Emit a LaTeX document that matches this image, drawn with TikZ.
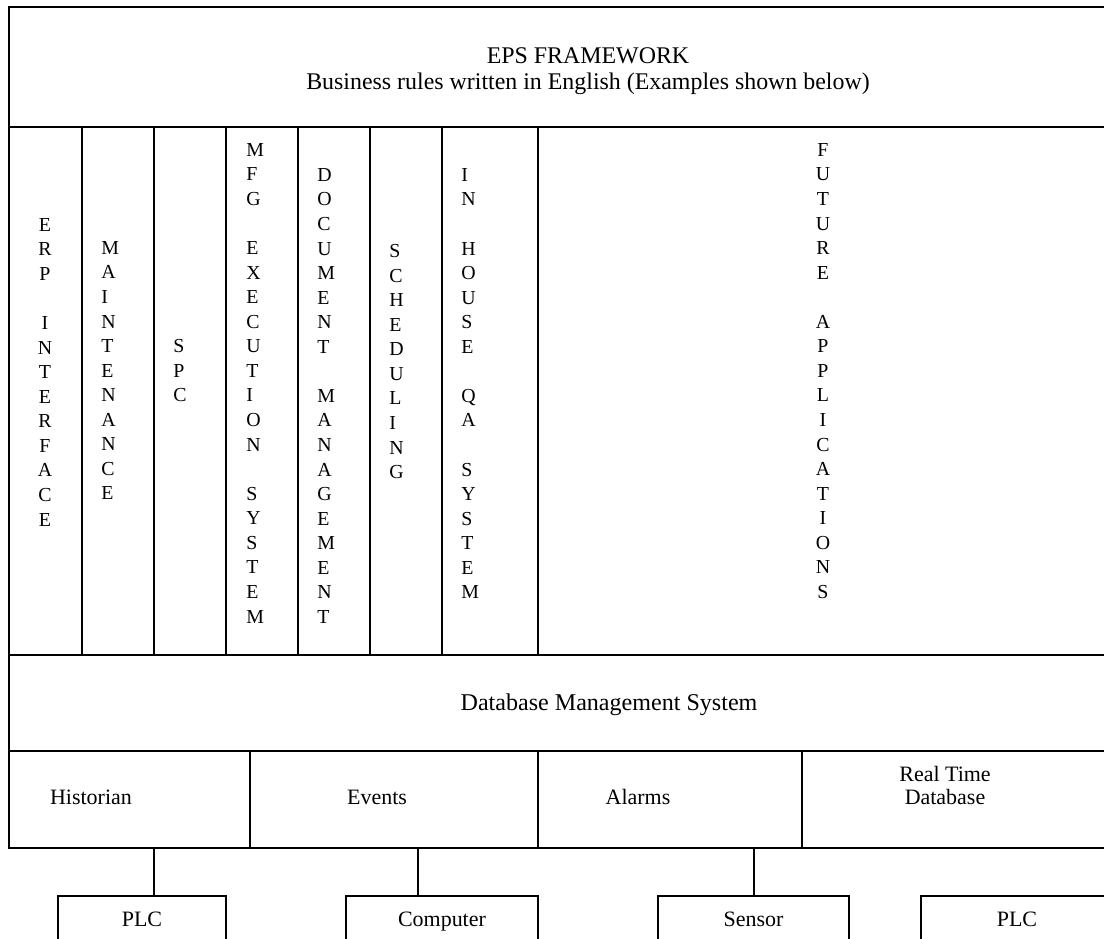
\documentclass[tikz,border=0pt]{standalone}
\usepackage{fontspec}
\setmainfont{Liberation Serif}
\usetikzlibrary{positioning}
\newcommand{\pxl}{0.02cm}
\tikzset{
	cell/.style={draw, line width=1.1pt, anchor=north west, inner sep=0pt},
	devbox/.style={draw, line width=1.1pt, anchor=north west, inner sep=0pt, text depth=0pt, font=\fontsize{12.5}{14}\selectfont},
	coltext/.style={inner sep=0pt, anchor=north west, align=left, font=\fontsize{11.3}{13.98}\selectfont},
	txt/.style={inner sep=0pt, anchor=base, font=\fontsize{12.5}{13.26}\selectfont},
	conn/.style={line width=1.1pt}
}

\begin{document}
\begin{tikzpicture}[x=\pxl, y=-\pxl]
		\useasboundingbox (0,0) rectangle (1104,938);
		\fill[white] (0,0) rectangle (1104,938);
		\clip (0,0) rectangle (1104,938);
		% framework header
		\node[cell, minimum width=1099*\pxl, minimum height=120*\pxl] (frame) at (8,6) {};
		\node[txt, anchor=north, align=center, font=\fontsize{13.6}{14.8}\selectfont] (frametext) at (588,47) {EPS FRAMEWORK\\Business rules written in English (Examples shown below)};
		% application columns
		\foreach \xa/\xb/\nm in {8/81/erp, 81/153/maint, 153/225/spc, 225/297/mes, 297/369/doc, 369/441/sched, 441/537/qa, 537/1107/future}
			\node[cell, minimum width={(\xb-\xa)*\pxl}, minimum height=528*\pxl] (\nm) at (\xa,126) {};
		\node[coltext, anchor=north, align=center] (erptext) at (45,218) {E\\R\\P\\ \\I\\N\\T\\E\\R\\F\\A\\C\\E};
		\node[coltext] (mainttext) at (101,241) {M\\A\\I\\N\\T\\E\\N\\A\\N\\C\\E};
		\node[coltext] (spctext) at (173,339) {S\\P\\C};
		\node[coltext] (mestext) at (246,143) {M\\F\\G\\ \\E\\X\\E\\C\\U\\T\\I\\O\\N\\ \\S\\Y\\S\\T\\E\\M};
		\node[coltext] (doctext) at (317,168) {D\\O\\C\\U\\M\\E\\N\\T\\ \\M\\A\\N\\A\\G\\E\\M\\E\\N\\T};
		\node[coltext] (schedtext) at (389,244) {S\\C\\H\\E\\D\\U\\L\\I\\N\\G};
		\node[coltext] (qatext) at (461,168) {I\\N\\ \\H\\O\\U\\S\\E\\ \\Q\\A\\ \\S\\Y\\S\\T\\E\\M};
		\node[coltext, anchor=north, align=center] (futuretext) at (823,143) {F\\U\\T\\U\\R\\E\\ \\A\\P\\P\\L\\I\\C\\A\\T\\I\\O\\N\\S};
		% database layer
		\node[cell, minimum width=1099*\pxl, minimum height=96*\pxl] (dbms) at (8,654) {};
		\node[txt, font=\fontsize{13.7}{15}\selectfont] (dbmstext) at (609,710) {Database Management System};
		\foreach \xa/\xb/\nm in {8/249/hist, 249/537/events, 537/801/alarms, 801/1107/rtdb}
			\node[cell, minimum width={(\xb-\xa)*\pxl}, minimum height=97*\pxl] (\nm) at (\xa,750) {};
		\node[txt] (histtext) at (91,804) {Historian};
		\node[txt] (eventstext) at (377,804) {Events};
		\node[txt] (alarmstext) at (638,804) {Alarms};
		\node[txt, anchor=north, align=center] (rtdbtext) at (945,766) {Real Time\\Database};
		% field devices
		\node[devbox, minimum width=168*\pxl, minimum height=47*\pxl] (plc) at (57,895) {PLC};
		\node[devbox, minimum width=192*\pxl, minimum height=47*\pxl] (computer) at (345,895) {Computer};
		\node[devbox, minimum width=191*\pxl, minimum height=47*\pxl] (sensor) at (657,895) {Sensor};
		\node[devbox, minimum width=192*\pxl, minimum height=47*\pxl] (plctwo) at (920,895) {PLC};
		\coordinate (plctop) at ([xshift=12*\pxl]plc.north);
		\coordinate (computertop) at ([xshift=-24*\pxl]computer.north);
		\coordinate (sensortop) at ([xshift=0.5*\pxl]sensor.north);
		\draw[conn] (plctop) -- (plctop |- hist.south);
		\draw[conn] (computertop) -- (computertop |- events.south);
		\draw[conn] (sensortop) -- (sensortop |- alarms.south);
	\end{tikzpicture}
\end{document}
